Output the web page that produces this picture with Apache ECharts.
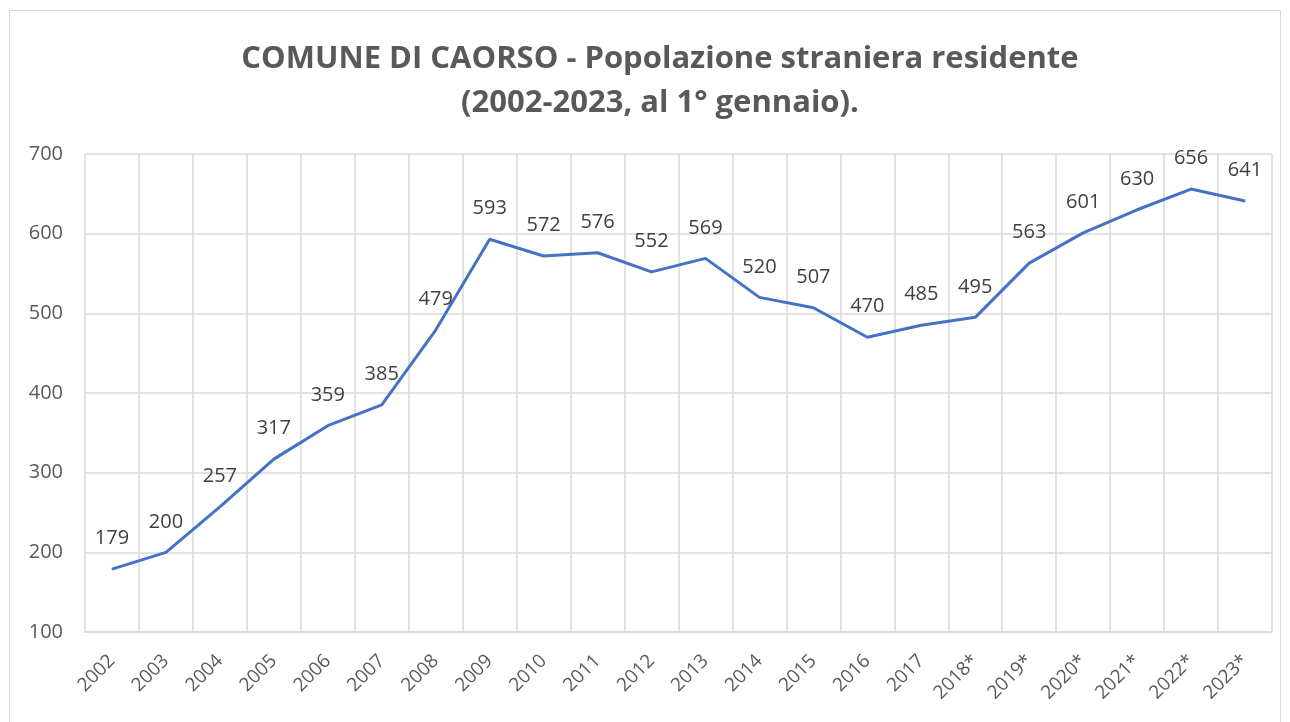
<!DOCTYPE html>
<html>
<head>
<meta charset="utf-8">
<script src="https://cdn.jsdelivr.net/npm/echarts@6/dist/echarts.min.js"></script>
<style>
  html, body { margin: 0; padding: 0; background: #fff; }
  #frame { position: absolute; left: 9px; top: 10px; width: 1272px; height: 720px; border: 1px solid #d9d9d9; box-sizing: border-box; }
  #chart { position: absolute; left: 0; top: 0; width: 1290px; height: 722px; }
</style>
</head>
<body>
<div id="frame"></div>
<div id="chart"></div>
<script>
const years = ['2002', '2003', '2004', '2005', '2006', '2007', '2008', '2009', '2010', '2011', '2012',
  '2013', '2014', '2015', '2016', '2017', '2018*', '2019*', '2020*', '2021*', '2022*', '2023*']
const residents = [179, 200, 257, 317, 359, 385, 479, 593, 572, 576, 552,
  569, 520, 507, 470, 485, 495, 563, 601, 630, 656, 641]

const chart = echarts.init(document.getElementById('chart'))

chart.setOption({
  backgroundColor: 'transparent',
  animation: false,
  title: {
    text: 'COMUNE DI CAORSO - Popolazione straniera residente\n(2002-2023, al 1° gennaio).',
    left: 655,
    textAlign: 'center',
    top: 32,
    textStyle: {
      fontFamily: 'Open Sans',
      fontWeight: 'bold',
      fontSize: 31,
      lineHeight: 44,
      color: '#595959'
    }
  },
  grid: {
    left: 85,
    right: 18,
    top: 154,
    bottom: 90
  },
  xAxis: {
    type: 'category',
    data: years,
    boundaryGap: true,
    axisLine: { lineStyle: { color: '#d9d9d9', width: 1.5 } },
    axisTick: { show: false },
    splitLine: { show: true, lineStyle: { color: '#d9d9d9', width: 1.5 } },
    axisLabel: {
      interval: 0,
      rotate: 45,
      margin: 26,
      fontFamily: 'Open Sans',
      fontSize: 19,
      color: '#595959'
    }
  },
  yAxis: {
    type: 'value',
    min: 100,
    max: 700,
    interval: 100,
    axisLine: { show: false },
    axisTick: { show: false },
    splitLine: { lineStyle: { color: '#d9d9d9', width: 1.5 } },
    axisLabel: {
      margin: 22,
      fontFamily: 'Open Sans',
      fontSize: 20,
      color: '#595959'
    }
  },
  series: [
    {
      name: 'Popolazione straniera',
      type: 'line',
      data: residents,
      showSymbol: true,
      symbol: 'circle',
      symbolSize: 1,
      itemStyle: { color: '#4472c4' },
      lineStyle: { color: '#4472c4', width: 3 },
      label: {
        show: true,
        position: 'top',
        distance: 20,
        fontFamily: 'Open Sans',
        fontSize: 20,
        color: '#404040'
      }
    }
  ]
})
</script>
</body>
</html>
